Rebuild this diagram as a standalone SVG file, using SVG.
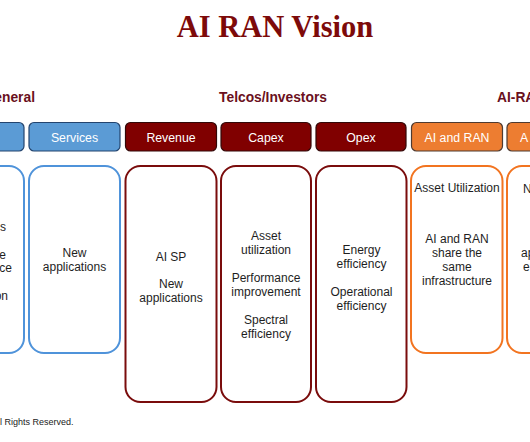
<svg xmlns="http://www.w3.org/2000/svg" width="530" height="442" viewBox="0 0 530 442">
<style>
.title{font-family:"Liberation Serif",serif;font-weight:bold;font-size:30.5px;fill:#7d0a0a;text-anchor:middle}
.sec{font-family:"Liberation Sans",Arial,sans-serif;font-weight:bold;font-size:13.8px;fill:#6a1020}
.hd{font-family:"Liberation Sans",Arial,sans-serif;font-size:12.3px;fill:#ffffff;text-anchor:middle}
.bd{font-family:"Liberation Sans",Arial,sans-serif;font-size:12px;fill:#1e1e1e;text-anchor:middle}
.bdE{font-family:"Liberation Sans",Arial,sans-serif;font-size:12px;fill:#1e1e1e;text-anchor:end}
.bdS{font-family:"Liberation Sans",Arial,sans-serif;font-size:12px;fill:#1e1e1e;text-anchor:start}
.cr{font-family:"Liberation Sans",Arial,sans-serif;font-size:9px;fill:#222}
.hb{fill:#5b9bd5;stroke:#23446e;stroke-width:1.2}
.hm{fill:#800000;stroke:#330808;stroke-width:1.2}
.ho{fill:#ed7d31;stroke:#4e3a30;stroke-width:1.2}
.bb{fill:#fff;stroke:#4f93da;stroke-width:2}
.bm{fill:#fff;stroke:#7a0c0c;stroke-width:2}
.bo{fill:#fff;stroke:#f27420;stroke-width:2}
</style>
<rect width="530" height="442" fill="#ffffff"/>
<text class="title" x="275" y="37">AI RAN Vision</text>
<text class="sec" x="35" y="102" text-anchor="end">eneral</text>
<text class="sec" x="273" y="102" text-anchor="middle">Telcos/Investors</text>
<text class="sec" x="497" y="102">AI-RAN</text>

<g id="col-general-1">
<rect class="hb" x="-67" y="122.5" width="91" height="28.5" rx="5"/>
<rect class="bb" x="-67" y="166" width="91" height="187" rx="15"/>
<text class="bdE" x="6" y="231">s</text>
<text class="bdE" x="6" y="259">e</text>
<text class="bdE" x="12" y="272">ce</text>
<text class="bdE" x="8" y="300">on</text>
</g>
<g id="col-services">
<rect class="hb" x="29" y="122.5" width="91" height="28.5" rx="5"/>
<text class="hd" x="74.5" y="141.5">Services</text>
<rect class="bb" x="29" y="166" width="91" height="187" rx="15"/>
<text class="bd" x="74.5" y="257">New</text>
<text class="bd" x="74.5" y="271">applications</text>
</g>
<g id="col-revenue">
<rect class="hm" x="125.5" y="122.5" width="91" height="28.5" rx="5"/>
<text class="hd" x="171" y="141.5">Revenue</text>
<rect class="bm" x="125.5" y="166" width="91" height="236" rx="15"/>
<text class="bd" x="171" y="261">AI SP</text>
<text class="bd" x="171" y="288">New</text>
<text class="bd" x="171" y="302">applications</text>
</g>
<g id="col-capex">
<rect class="hm" x="221" y="122.5" width="90" height="28.5" rx="5"/>
<text class="hd" x="266" y="141.5">Capex</text>
<rect class="bm" x="221" y="166" width="90" height="236" rx="15"/>
<text class="bd" x="266" y="240">Asset</text>
<text class="bd" x="266" y="254">utilization</text>
<text class="bd" x="266" y="282">Performance</text>
<text class="bd" x="266" y="296">improvement</text>
<text class="bd" x="266" y="324">Spectral</text>
<text class="bd" x="266" y="338">efficiency</text>
</g>
<g id="col-opex">
<rect class="hm" x="316" y="122.5" width="90" height="28.5" rx="5"/>
<text class="hd" x="361" y="141.5">Opex</text>
<rect class="bm" x="316" y="166" width="90.5" height="236" rx="15"/>
<text class="bd" x="361.5" y="254">Energy</text>
<text class="bd" x="361.5" y="268">efficiency</text>
<text class="bd" x="361.5" y="296">Operational</text>
<text class="bd" x="361.5" y="310">efficiency</text>
</g>
<g id="col-ai-and-ran">
<rect class="ho" x="411.5" y="122.5" width="91" height="28.5" rx="5"/>
<text class="hd" x="457" y="141.5">AI and RAN</text>
<rect class="bo" x="411" y="166" width="91.5" height="187" rx="15"/>
<text class="bd" x="457" y="192">Asset Utilization</text>
<text class="bd" x="457" y="243">AI and RAN</text>
<text class="bd" x="457" y="257">share the</text>
<text class="bd" x="457" y="271">same</text>
<text class="bd" x="457" y="285">infrastructure</text>
</g>
<g id="col-ai-ran-2">
<rect class="ho" x="507" y="122.5" width="91" height="28.5" rx="5"/>
<text class="hd" x="524" y="141.5" text-anchor="start">A</text>
<rect class="bo" x="507" y="166" width="91" height="187" rx="15"/>
<text class="bdS" x="523" y="193">N</text>
<text class="bdS" x="521" y="257">ap</text>
<text class="bdS" x="523" y="271">e</text>
</g>
<g id="connectors"></g>
<text class="cr" x="0" y="425">l Rights Reserved.</text>
</svg>
